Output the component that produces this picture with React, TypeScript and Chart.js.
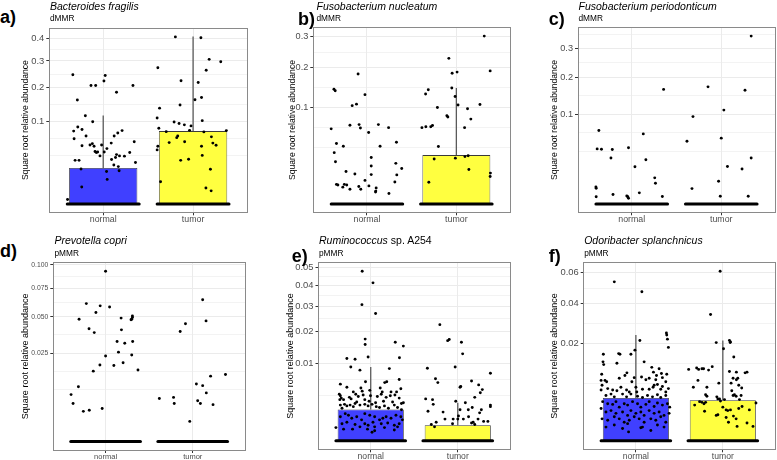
import React, { useEffect, useRef } from 'react';
import { Chart, registerables } from 'chart.js';
Chart.register(...registerables);

const FONT = "'Liberation Sans', Arial, Helvetica, sans-serif";
Chart.defaults.font.family = FONT;

const CATEGORIES = ['normal', 'tumor'];
const Y_TITLE = 'Square root relative abundance';
const BAR_COLORS = ['#4040ff', '#ffff40'];
const JITTER_HALF = 0.4;

// Each point: [jitter offset from category centre, square-root relative abundance]
// ---------- a) Bacteroides fragilis (dMMR)
const aTicks = [0.1, 0.2, 0.3, 0.4];
const aTickLabels = ['0.1', '0.2', '0.3', '0.4'];
const aBars = [0.138, 0.279];
const aErrs = [0.339, 0.642];
const aNormal = [
  [-0.338, 0.495], [-0.288, 0.398], [-0.136, 0.454], [-0.084, 0.454], [0.022, 0.492], [0.008, 0.471],
  [0.148, 0.428], [0.331, 0.454], [-0.199, 0.338], [-0.117, 0.315], [-0.283, 0.295], [-0.236, 0.285],
  [-0.329, 0.279], [-0.324, 0.25], [-0.191, 0.26], [-0.236, 0.223], [-0.147, 0.226], [-0.121, 0.231],
  [-0.102, 0.221], [-0.091, 0.201], [-0.077, 0.197], [-0.062, 0.199], [-0.036, 0.184], [-0.018, 0.226],
  [0.011, 0.199], [0.041, 0.212], [0.089, 0.233], [0.122, 0.26], [0.162, 0.272], [0.21, 0.281],
  [0.345, 0.238], [0.295, 0.197], [0.236, 0.183], [0.148, 0.189], [0.093, 0.17], [0.118, 0.149],
  [0.168, 0.143], [0.137, 0.178], [0.181, 0.184], [0.359, 0.159], [-0.313, 0.167], [-0.269, 0.167],
  [-0.247, 0.134], [-0.239, 0.065], [0.037, 0.124], [0.044, 0.094], [0.177, 0.127], [-0.397, 0.017],
];
const aTumor = [
  [-0.197, 0.64], [0.087, 0.637], [0.179, 0.554], [0.308, 0.545], [-0.392, 0.522], [0.146, 0.512],
  [-0.134, 0.472], [0.057, 0.465], [0.094, 0.408], [0.021, 0.399], [-0.145, 0.379], [-0.373, 0.367],
  [-0.4, 0.329], [0.102, 0.319], [-0.211, 0.314], [-0.156, 0.308], [-0.097, 0.303], [-0.023, 0.299],
  [-0.381, 0.29], [-0.039, 0.282], [-0.299, 0.277], [0.12, 0.276], [0.37, 0.281], [-0.171, 0.26],
  [-0.182, 0.254], [0.204, 0.257], [0.22, 0.233], [0.256, 0.225], [-0.266, 0.235], [-0.094, 0.238],
  [-0.392, 0.221], [-0.4, 0.207], [0.094, 0.221], [0.102, 0.186], [-0.138, 0.167], [-0.05, 0.171],
  [0.193, 0.133], [-0.362, 0.085], [0.143, 0.061], [0.201, 0.05],
];

// ---------- b) Fusobacterium nucleatum (dMMR)
const bTicks = [0.1, 0.2, 0.3];
const bTickLabels = ['0.1', '0.2', '0.3'];
const bBars = [null, 0.16];
const bErrs = [null, 0.38];
const bNormal = [
  [-0.369, 0.376], [-0.355, 0.371], [-0.099, 0.426], [-0.022, 0.358], [-0.117, 0.327], [-0.165, 0.322],
  [-0.4, 0.246], [-0.19, 0.258], [-0.088, 0.26], [-0.073, 0.249], [0.128, 0.26], [0.242, 0.25],
  [0.019, 0.234], [-0.341, 0.198], [-0.264, 0.189], [0.147, 0.189], [0.33, 0.202], [-0.366, 0.168],
  [-0.352, 0.138], [0.048, 0.152], [0.048, 0.124], [-0.234, 0.106], [-0.135, 0.098], [0.048, 0.096],
  [0.323, 0.133], [0.389, 0.116], [0.334, 0.095], [-0.022, 0.077], [-0.341, 0.064], [-0.325, 0.062],
  [-0.253, 0.064], [-0.226, 0.062], [-0.27, 0.055], [-0.19, 0.048], [-0.091, 0.057], [-0.069, 0.048],
  [0.022, 0.059], [0.103, 0.052], [0.099, 0.042], [0.096, 0.039], [0.246, 0.034], [0.312, 0.072],
];
const bTumor = [
  [0.312, 0.55], [0.378, 0.436], [-0.084, 0.477], [-0.047, 0.428], [0.008, 0.432], [-0.051, 0.38],
  [-0.014, 0.352], [-0.314, 0.374], [-0.344, 0.36], [-0.212, 0.316], [0.019, 0.324], [0.125, 0.312],
  [0.264, 0.326], [0.162, 0.278], [-0.106, 0.289], [-0.095, 0.285], [-0.385, 0.25], [-0.341, 0.253],
  [-0.286, 0.253], [-0.267, 0.257], [0.092, 0.25], [-0.201, 0.188], [-0.011, 0.15], [0.096, 0.155],
  [0.132, 0.158], [-0.248, 0.147], [0.14, 0.113], [0.381, 0.101], [0.378, 0.09], [-0.308, 0.071],
];

// ---------- c) Fusobacterium periodonticum (dMMR)
const cTicks = [0.1, 0.2, 0.3];
const cTickLabels = ['0.1', '0.2', '0.3'];
const cBars = [null, null];
const cErrs = [null, null];
const cNormal = [
  [-0.367, 0.259], [-0.386, 0.194], [-0.338, 0.193], [-0.217, 0.192], [-0.232, 0.162], [-0.036, 0.198],
  [0.129, 0.247], [0.356, 0.404], [0.036, 0.131], [0.158, 0.156], [0.257, 0.092], [0.265, 0.073],
  [-0.4, 0.06], [-0.397, 0.055], [-0.397, 0.025], [-0.209, 0.033], [-0.055, 0.028], [-0.044, 0.025],
  [-0.036, 0.02], [0.085, 0.039], [0.342, 0.026],
];
const cTumor = [
  [0.334, 0.592], [-0.148, 0.413], [0.265, 0.401], [0.029, 0.331], [-0.316, 0.308], [0.0, 0.232],
  [-0.383, 0.221], [0.334, 0.162], [0.069, 0.132], [0.232, 0.123], [-0.03, 0.08], [-0.327, 0.054],
  [-0.011, 0.027], [0.301, 0.027],
];

// ---------- d) Prevotella copri (pMMR)
const dTicks = [0.025, 0.05, 0.075, 0.1];
const dTickLabels = ['0.025', '0.050', '0.075', '0.100'];
const dBars = [null, null];
const dErrs = [null, null];
const dNormal = [
  [0.0, 0.305], [-0.221, 0.247], [-0.062, 0.243], [0.046, 0.241], [-0.111, 0.231], [-0.304, 0.219],
  [0.178, 0.221], [0.308, 0.225], [0.308, 0.222], [0.3, 0.219], [0.292, 0.218], [-0.19, 0.202],
  [-0.13, 0.195], [0.182, 0.2], [0.132, 0.179], [0.22, 0.176], [0.311, 0.179], [0.148, 0.16],
  [0.0, 0.153], [0.3, 0.155], [-0.065, 0.137], [0.095, 0.136], [0.201, 0.141], [-0.141, 0.126],
  [0.372, 0.128], [-0.312, 0.098], [-0.396, 0.084], [-0.373, 0.068], [-0.255, 0.054], [-0.187, 0.056],
  [-0.039, 0.059],
];
const dTumor = [
  [0.114, 0.254], [0.153, 0.216], [-0.083, 0.211], [-0.144, 0.197], [0.205, 0.117], [0.376, 0.12],
  [0.042, 0.103], [0.114, 0.1], [0.156, 0.087], [-0.383, 0.077], [-0.22, 0.079], [-0.212, 0.068],
  [0.057, 0.073], [0.088, 0.068], [0.233, 0.066], [-0.034, 0.036],
];

// ---------- e) Ruminococcus sp. A254 (pMMR)
const eTicks = [0.01, 0.02, 0.03, 0.04, 0.05];
const eTickLabels = ['0.01', '0.02', '0.03', '0.04', '0.05'];
const eBars = [0.0405, 0.02];
const eErrs = [0.095, 0.049];
const eNormal = [
  [-0.098, 0.2185], [0.026, 0.2035], [-0.101, 0.1754], [0.056, 0.164], [-0.064, 0.131], [-0.064, 0.124],
  [0.282, 0.127], [0.375, 0.122], [-0.274, 0.106], [-0.18, 0.105], [-0.03, 0.108], [0.33, 0.107],
  [-0.229, 0.095], [-0.124, 0.091], [0.214, 0.093], [-0.06, 0.076], [-0.349, 0.073], [-0.274, 0.069],
  [0.327, 0.079], [0.161, 0.075], [0.184, 0.076], [-0.113, 0.068], [-0.098, 0.064], [-0.2, 0.063],
  [-0.172, 0.06], [-0.011, 0.065], [0.109, 0.068], [0.132, 0.063], [0.233, 0.063], [0.297, 0.063],
  [0.346, 0.067], [-0.361, 0.06], [-0.349, 0.058], [-0.338, 0.055], [-0.355, 0.053], [-0.245, 0.056],
  [-0.225, 0.054], [-0.312, 0.053], [-0.143, 0.057], [-0.161, 0.05], [-0.087, 0.059], [-0.068, 0.053],
  [-0.003, 0.058], [-0.019, 0.051], [0.076, 0.057], [0.056, 0.049], [0.121, 0.06], [0.147, 0.051],
  [0.177, 0.056], [0.225, 0.058], [0.251, 0.05], [0.278, 0.059], [0.327, 0.055], [0.353, 0.048],
  [0.375, 0.049], [-0.349, 0.046], [-0.301, 0.047], [-0.274, 0.045], [-0.237, 0.046], [-0.2, 0.044],
  [-0.33, 0.042], [-0.18, 0.048], [-0.124, 0.046], [-0.068, 0.047], [-0.03, 0.045], [0.015, 0.047],
  [0.064, 0.044], [0.101, 0.043], [0.158, 0.045], [0.203, 0.042], [0.271, 0.046], [0.308, 0.043],
  [0.353, 0.04], [-0.293, 0.035], [-0.256, 0.033], [-0.349, 0.031], [-0.218, 0.029], [-0.161, 0.031],
  [-0.105, 0.027], [-0.068, 0.035], [-0.011, 0.033], [0.045, 0.031], [0.101, 0.027], [0.139, 0.029],
  [0.177, 0.031], [0.233, 0.029], [0.29, 0.033], [0.346, 0.031], [0.364, 0.027], [-0.33, 0.022],
  [-0.274, 0.024], [-0.18, 0.021], [-0.124, 0.018], [-0.068, 0.022], [-0.03, 0.02], [0.026, 0.024],
  [0.045, 0.018], [0.121, 0.022], [0.158, 0.017], [0.195, 0.023], [0.271, 0.02], [0.327, 0.022],
  [-0.4, 0.017], [-0.312, 0.015], [-0.037, 0.015], [0.015, 0.011], [0.045, 0.013], [0.271, 0.014],
  [0.308, 0.018], [-0.209, 0.015],
];
const eTumor = [
  [-0.206, 0.1496], [-0.116, 0.129], [-0.098, 0.1305], [0.042, 0.127], [0.056, 0.112], [-0.349, 0.0935],
  [-0.03, 0.095], [0.375, 0.087], [-0.256, 0.08], [-0.229, 0.075], [0.158, 0.077], [0.034, 0.07],
  [0.026, 0.069], [0.24, 0.072], [0.282, 0.066], [0.259, 0.062], [0.195, 0.056], [-0.369, 0.054],
  [-0.29, 0.053], [-0.282, 0.047], [0.087, 0.049], [-0.023, 0.051], [0.375, 0.046], [0.375, 0.044],
  [0.166, 0.043], [0.121, 0.04], [-0.342, 0.038], [0.271, 0.04], [0.251, 0.036], [-0.169, 0.037],
  [0.026, 0.04], [0.008, 0.032], [0.0, 0.028], [0.124, 0.031], [0.064, 0.028], [-0.053, 0.028],
  [-0.147, 0.028], [-0.248, 0.024], [-0.304, 0.021], [-0.267, 0.018], [-0.06, 0.022], [0.177, 0.024],
  [0.233, 0.028], [0.195, 0.021], [0.158, 0.023], [0.297, 0.025], [0.346, 0.025],
];

// ---------- f) Odoribacter splanchnicus (pMMR)
const fTicks = [0.02, 0.04, 0.06];
const fTickLabels = ['0.02', '0.04', '0.06'];
const fBars = [0.0624, 0.059];
const fErrs = [0.154, 0.146];
const fNormal = [
  [-0.248, 0.2315], [0.069, 0.217], [0.351, 0.157], [0.355, 0.154], [0.363, 0.148], [0.374, 0.136],
  [0.046, 0.146], [-0.011, 0.132], [-0.374, 0.126], [-0.378, 0.115], [-0.37, 0.111], [-0.198, 0.127],
  [-0.183, 0.126], [-0.218, 0.113], [-0.057, 0.126], [0.095, 0.115], [-0.393, 0.097], [-0.4, 0.088],
  [-0.103, 0.099], [-0.126, 0.095], [0.183, 0.107], [0.267, 0.105], [0.202, 0.1], [0.237, 0.095],
  [0.294, 0.098], [0.355, 0.097], [-0.355, 0.088], [-0.336, 0.086], [-0.191, 0.091], [-0.019, 0.092],
  [-0.046, 0.086], [0.065, 0.093], [0.115, 0.089], [0.153, 0.091], [0.229, 0.089], [0.305, 0.092],
  [0.344, 0.086], [-0.4, 0.074], [-0.389, 0.081], [-0.324, 0.076], [-0.267, 0.074], [-0.218, 0.073],
  [-0.172, 0.078], [-0.107, 0.074], [-0.076, 0.071], [0.0, 0.078], [0.011, 0.071], [0.076, 0.075],
  [0.153, 0.075], [0.198, 0.078], [0.21, 0.081], [0.248, 0.082], [0.305, 0.079], [0.286, 0.075],
  [0.344, 0.071], [0.374, 0.076], [-0.344, 0.066], [-0.286, 0.068], [-0.248, 0.064], [-0.153, 0.068],
  [-0.107, 0.064], [-0.057, 0.068], [0.019, 0.065], [0.076, 0.063], [0.134, 0.066], [0.191, 0.064],
  [0.248, 0.067], [0.286, 0.063], [0.344, 0.066], [-0.382, 0.057], [-0.324, 0.054], [-0.267, 0.053],
  [-0.229, 0.057], [-0.191, 0.049], [-0.134, 0.054], [-0.095, 0.052], [-0.038, 0.057], [0.019, 0.054],
  [0.057, 0.049], [0.115, 0.053], [0.153, 0.057], [0.21, 0.05], [0.248, 0.055], [0.305, 0.052],
  [0.363, 0.054], [-0.4, 0.047], [-0.344, 0.042], [-0.286, 0.044], [-0.229, 0.04], [-0.153, 0.042],
  [-0.095, 0.037], [-0.057, 0.044], [0.0, 0.04], [0.057, 0.042], [0.095, 0.037], [0.153, 0.044],
  [0.21, 0.04], [0.267, 0.042], [0.324, 0.037], [0.382, 0.04], [0.389, 0.049], [-0.389, 0.032],
  [-0.324, 0.03], [-0.248, 0.035], [-0.191, 0.032], [-0.134, 0.027], [-0.076, 0.03], [-0.019, 0.035],
  [0.038, 0.032], [0.095, 0.027], [0.172, 0.032], [0.229, 0.03], [0.286, 0.035], [0.344, 0.027],
  [-0.344, 0.02], [-0.248, 0.023], [-0.153, 0.018], [-0.095, 0.025], [0.076, 0.02], [0.172, 0.015],
  [0.248, 0.023], [0.324, 0.02], [-0.084, 0.013], [0.057, 0.019],
];
const fTumor = [
  [-0.031, 0.247], [-0.141, 0.184], [-0.076, 0.143], [0.076, 0.146], [0.084, 0.143], [0.088, 0.144],
  [0.008, 0.134], [0.126, 0.122], [-0.393, 0.104], [-0.301, 0.106], [-0.278, 0.104], [-0.24, 0.105],
  [-0.221, 0.105], [-0.164, 0.103], [-0.122, 0.108], [0.076, 0.101], [0.156, 0.1], [0.256, 0.099],
  [0.278, 0.1], [-0.286, 0.088], [0.118, 0.091], [0.156, 0.089], [0.172, 0.091], [-0.046, 0.084],
  [0.095, 0.084], [-0.183, 0.078], [-0.339, 0.078], [0.183, 0.081], [0.217, 0.077], [0.103, 0.073],
  [0.133, 0.067], [0.118, 0.066], [0.153, 0.065], [0.21, 0.066], [0.191, 0.06], [-0.198, 0.067],
  [-0.183, 0.065], [-0.069, 0.064], [-0.057, 0.061], [-0.038, 0.061], [0.019, 0.06], [-0.267, 0.057],
  [-0.24, 0.056], [-0.198, 0.056], [-0.324, 0.052], [-0.217, 0.054], [0.0, 0.049], [0.038, 0.045],
  [0.057, 0.044], [0.088, 0.045], [-0.027, 0.058], [0.183, 0.047], [0.221, 0.05], [0.305, 0.045],
  [0.381, 0.055], [-0.21, 0.043], [-0.076, 0.037], [-0.057, 0.038], [0.122, 0.036], [0.153, 0.032],
  [0.038, 0.034], [0.065, 0.027], [0.164, 0.021], [0.278, 0.026], [0.347, 0.021],
];

type Seg = [string, boolean];
type PanelDef = {
  tag: string; title: Seg[]; sub: string;
  normal: number[][]; tumor: number[][]; bars: (number | null)[]; errs: (number | null)[];
  ticks: number[]; tickLabels: string[];
  box: { l: number; t: number; r: number; b: number };
  yTitleX: number; tagX: number; tagTop: number; titleX: number; titleTop: number; subTop: number;
  tickFont: number; xFont: number; yTitleFont: number; xPad: number;
};

const PANELS: PanelDef[] = [
  { tag: 'a)', title: [['Bacteroides fragilis', true]], sub: 'dMMR', normal: aNormal, tumor: aTumor, bars: aBars, errs: aErrs,
    ticks: aTicks, tickLabels: aTickLabels, box: { l: 49.3, t: 28, r: 248.4, b: 212.3 }, yTitleX: 25.2,
    tagX: 0, tagTop: 7.8, titleX: 50, titleTop: 1.2, subTop: 13.6, tickFont: 9.4, xFont: 8.8, yTitleFont: 8.6, xPad: -1 },
  { tag: 'b)', title: [['Fusobacterium nucleatum', true]], sub: 'dMMR', normal: bNormal, tumor: bTumor, bars: bBars, errs: bErrs,
    ticks: bTicks, tickLabels: bTickLabels, box: { l: 313.3, t: 27.7, r: 511.5, b: 212.3 }, yTitleX: 292.2,
    tagX: 298, tagTop: 10.3, titleX: 316.5, titleTop: 1.2, subTop: 13.6, tickFont: 9.2, xFont: 8.8, yTitleFont: 8.6, xPad: -1 },
  { tag: 'c)', title: [['Fusobacterium periodonticum', true]], sub: 'dMMR', normal: cNormal, tumor: cTumor, bars: cBars, errs: cErrs,
    ticks: cTicks, tickLabels: cTickLabels, box: { l: 578, t: 27.7, r: 776.3, b: 212.3 }, yTitleX: 554.5,
    tagX: 548.7, tagTop: 10.3, titleX: 578.5, titleTop: 1.2, subTop: 13.6, tickFont: 9.2, xFont: 8.8, yTitleFont: 8.6, xPad: -1 },
  { tag: 'd)', title: [['Prevotella copri', true]], sub: 'pMMR', normal: dNormal, tumor: dTumor, bars: dBars, errs: dErrs,
    ticks: dTicks, tickLabels: dTickLabels, box: { l: 53.3, t: 262.7, r: 246.3, b: 450 }, yTitleX: 25,
    tagX: 0, tagTop: 241.6, titleX: 54.5, titleTop: 234.6, subTop: 248.9, tickFont: 6.8, xFont: 7.5, yTitleFont: 9, xPad: -1 },
  { tag: 'e)', title: [['Ruminococcus', true], [' sp. A254', false]], sub: 'pMMR', normal: eNormal, tumor: eTumor, bars: eBars, errs: eErrs,
    ticks: eTicks, tickLabels: eTickLabels, box: { l: 318.5, t: 262.7, r: 512, b: 449.3 }, yTitleX: 290.8,
    tagX: 291.7, tagTop: 246.9, titleX: 319, titleTop: 234.6, subTop: 248.9, tickFont: 9.4, xFont: 8.6, yTitleFont: 9, xPad: -1 },
  { tag: 'f)', title: [['Odoribacter splanchnicus', true]], sub: 'pMMR', normal: fNormal, tumor: fTumor, bars: fBars, errs: fErrs,
    ticks: fTicks, tickLabels: fTickLabels, box: { l: 583.7, t: 262.7, r: 776.3, b: 449.3 }, yTitleX: 554.5,
    tagX: 548.7, tagTop: 247.2, titleX: 584.2, titleTop: 234.6, subTop: 248.9, tickFont: 9.4, xFont: 8.6, yTitleFont: 9, xPad: -1 },
];

// ggplot-like minor breaks in transformed (sqrt) space
function minorBreaks(b: number[], lo: number, hi: number) {
  const all = [b[0] - (b[1] - b[0]), ...b, b[b.length - 1] + (b[b.length - 1] - b[b.length - 2])];
  const out: number[] = [];
  for (let i = 0; i < all.length - 1; i++) {
    if (i === 0) out.push(all[0]);
    out.push((all[i] + all[i + 1]) / 2);
    if (i + 1 === all.length - 1) out.push(all[i + 1]);
  }
  return out.filter((v) => v >= lo && v <= hi);
}

const BORDER = '#8a8a8a';
const GRID = '#ebebeb';

function PanelView({ p }: { p: PanelDef }) {
  const ref = useRef<HTMLCanvasElement>(null);
  const cl = Math.round(p.yTitleX - 5.5);
  const ct = Math.round(p.box.t) - 8;
  const padT = p.box.t - ct;
  const w = Math.ceil(p.box.r) + 2 - cl;
  const h = Math.ceil(p.box.b - ct + 16);
  const yw = p.box.l - cl;
  const xh = h - (p.box.b - ct);
  const padR = w - (p.box.r - cl);

  useEffect(() => {
    const groups = [p.normal, p.tumor];
    const vals = [...p.normal.map((d) => d[1]), ...p.tumor.map((d) => d[1]), ...(p.errs.filter((v) => v != null) as number[])];
    const M = Math.max(...vals);
    const yMin = -0.05 * M;
    const yMax = 1.05 * M;
    const majors = p.ticks.map((t, i) => ({ value: Math.sqrt(t), isMajor: true, text: p.tickLabels[i] }));
    const minors = minorBreaks(p.ticks.map(Math.sqrt), yMin, yMax).map((v) => ({ value: v, isMajor: false, text: '' }));
    const yTicks = [...majors, ...minors].sort((a, b) => a.value - b.value);

    const datasets: any[] = [];
    datasets.push({
      type: 'scatter', order: 0,
      data: groups.flatMap((g, gi) => g.map(([dx, y]) => ({ x: gi + 1 + dx, y }))),
      pointRadius: 1.45, pointBackgroundColor: '#000', pointBorderWidth: 0, pointBorderColor: '#000',
    });
    groups.forEach((_, gi) => {
      datasets.push({
        type: 'line', order: 1,
        data: [{ x: gi + 1 - JITTER_HALF, y: 0 }, { x: gi + 1 + JITTER_HALF, y: 0 }],
        borderColor: '#000', borderWidth: 3, pointRadius: 0, borderCapStyle: 'round',
      });
    });
    p.errs.forEach((e, gi) => {
      const m = p.bars[gi];
      if (e != null && m != null) {
        datasets.push({
          type: 'line', order: 2, data: [{ x: gi + 1, y: m }, { x: gi + 1, y: e }],
          borderColor: '#5a5a5a', borderWidth: 1.3, pointRadius: 0,
        });
      }
    });
    const barData = p.bars.map((v, gi) => (v == null ? null : { x: gi + 1, y: v })).filter(Boolean) as any[];
    if (barData.length) {
      datasets.push({
        type: 'bar', order: 3, data: barData,
        backgroundColor: barData.map((d) => BAR_COLORS[d.x - 1]),
        borderColor: '#3a3a3a', borderWidth: 0.8, barPercentage: 0.76, categoryPercentage: 1,
      });
    }

    const chart = new Chart(ref.current as HTMLCanvasElement, {
      type: 'scatter',
      data: { datasets },
      options: {
        animation: false, responsive: false, events: [],
        layout: { padding: { top: padT, right: padR, left: 0, bottom: 0 } },
        plugins: { legend: { display: false }, tooltip: { enabled: false } },
        scales: {
          x: {
            type: 'linear', position: 'bottom', min: 0.4, max: 2.6, offset: false,
            afterBuildTicks: (s: any) => { s.ticks = [{ value: 1 }, { value: 2 }]; },
            afterFit: (s: any) => { s.height = xh; },
            ticks: { autoSkip: false, maxRotation: 0, minRotation: 0, color: '#4d4d4d', font: { size: p.xFont }, padding: p.xPad,
              callback: (v: any) => CATEGORIES[Math.round(Number(v)) - 1] },
            grid: { offset: false, color: GRID, lineWidth: 1, tickColor: '#333', tickLength: 3, tickWidth: 1 },
            border: { display: true, color: BORDER, width: 1 },
          },
          y: {
            type: 'linear', position: 'left', min: yMin, max: yMax, beginAtZero: false,
            afterBuildTicks: (s: any) => { s.ticks = yTicks.map((t) => ({ ...t })); },
            afterFit: (s: any) => { s.width = yw; },
            ticks: { autoSkip: false, color: '#4d4d4d', font: { size: p.tickFont }, padding: 2,
              callback: (_v: any, i: number, ts: any[]) => ts[i].text },
            grid: {
              color: GRID,
              lineWidth: (c: any) => (c.tick && c.tick.isMajor ? 1 : 0.6),
              tickColor: (c: any) => (c.tick && c.tick.isMajor ? '#333' : 'rgba(0,0,0,0)'),
              tickLength: 3, tickWidth: 1,
            },
            title: { display: true, text: Y_TITLE, color: '#000', font: { size: p.yTitleFont }, padding: 0 },
            border: { display: true, color: BORDER, width: 1 },
          },
          x2: {
            type: 'linear', position: 'top', min: 0.4, max: 2.6, offset: false,
            ticks: { display: false }, grid: { display: false },
            border: { display: true, color: BORDER, width: 1 },
            afterFit: (s: any) => { s.height = 0; },
          },
          y2: {
            type: 'linear', position: 'right', min: yMin, max: yMax,
            ticks: { display: false }, grid: { display: false },
            border: { display: true, color: BORDER, width: 1 },
            afterFit: (s: any) => { s.width = 0; },
          },
        },
      } as any,
    });
    return () => chart.destroy();
  }, []);

  return (
    <>
      <canvas ref={ref} width={w} height={h} style={{ position: 'absolute', left: cl, top: ct, width: w, height: h }} />
      <div style={{ position: 'absolute', left: p.tagX, top: p.tagTop, font: `bold 18px/1 ${FONT}`, color: '#000', whiteSpace: 'nowrap' }}>{p.tag}</div>
      <div style={{ position: 'absolute', left: p.titleX, top: p.titleTop, font: `10.5px/1 ${FONT}`, color: '#000', whiteSpace: 'nowrap' }}>
        {p.title.map((s, i) => (<span key={i} style={{ fontStyle: s[1] ? 'italic' : 'normal' }}>{s[0]}</span>))}
      </div>
      <div style={{ position: 'absolute', left: p.titleX, top: p.subTop, font: `8.3px/1 ${FONT}`, color: '#000', whiteSpace: 'nowrap' }}>{p.sub}</div>
    </>
  );
}

export default function App() {
  return (
    <div style={{ position: 'absolute', left: 0, top: 0, width: 777, height: 460, overflow: 'hidden', background: '#fff' }}>
      {PANELS.map((p, i) => <PanelView key={i} p={p} />)}
    </div>
  );
}
